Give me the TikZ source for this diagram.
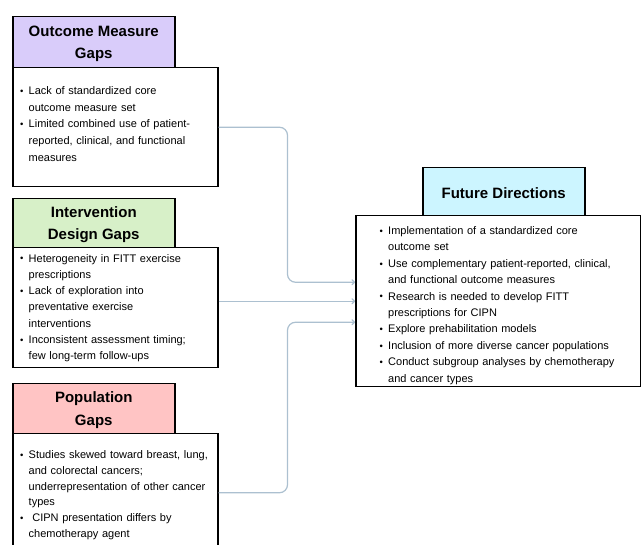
\documentclass[tikz,border=0pt]{standalone}
\usepackage{fontspec}
\setmainfont{Liberation Sans}
\usetikzlibrary{arrows.meta}
\definecolor{purpH}{RGB}{217,204,250}
\definecolor{greenH}{RGB}{215,240,200}
\definecolor{pinkH}{RGB}{255,196,196}
\definecolor{cyanH}{RGB}{204,245,255}
\definecolor{connC}{RGB}{172,192,208}
\newcommand{\bpt}[1]{\par\hangindent=8.5pt\hangafter=1\noindent\strut\makebox[8.5pt][l]{\raisebox{0.3pt}{\fontsize{9.5}{9.5}\selectfont\textbullet}}#1}
\tikzset{
  hdr/.style={draw, line width=1.5pt, minimum width=162pt, anchor=north west, inner sep=0pt},
  hdrtext/.style={align=center, inner sep=0pt, font=\bfseries\fontsize{15}{22.5}\selectfont},
  bodybox/.style={draw, line width=1.5pt, fill=white, anchor=north west, inner sep=0pt},
  btext/.style={anchor=north west, inner sep=0pt, text width=300pt, align=left},
  conn/.style={draw=connC, line width=1.2pt, rounded corners=8pt, -{To[length=3.5pt,width=6pt]}}
}
\begin{document}
\begin{tikzpicture}[x=1pt,y=-1pt]
\useasboundingbox (0,0) rectangle (641,545);
% Outcome measure
\node[bodybox, minimum width=205pt, minimum height=119pt] (b1) at (12,67) {};
\node[hdr, fill=purpH, minimum height=51pt] (h1) at (12,16) {};
\node[hdrtext] (h1t) at ([yshift=-1.5pt]h1.center) {Outcome Measure\\Gaps};
\node[btext, font=\fontsize{11}{16.7}\selectfont] (t1) at (20,77.5) {%
\bpt{Lack of standardized core\newline outcome measure set}
\bpt{Limited combined use of patient-\newline reported, clinical, and functional\newline measures}\par};
% Intervention design
\node[bodybox, minimum width=205pt, minimum height=120pt] (b2) at (12,247) {};
\node[hdr, fill=greenH, minimum height=49pt] (h2) at (12,198) {};
\node[hdrtext] (h2t) at ([yshift=-1.5pt]h2.center) {Intervention\\Design Gaps};
\node[btext, font=\fontsize{11}{16.3}\selectfont] (t2) at (20,245.6) {%
\bpt{Heterogeneity in FITT exercise\newline prescriptions}
\bpt{Lack of exploration into\newline preventative exercise\newline interventions}
\bpt{Inconsistent assessment timing;\newline few long-term follow-ups}\par};
% Population
\node[bodybox, minimum width=205pt, minimum height=118pt] (b3) at (12,433) {};
\node[hdr, fill=pinkH, minimum height=50pt] (h3) at (12,383) {};
\node[hdrtext] (h3t) at ([yshift=-1.5pt]h3.center) {Population\\Gaps};
\node[btext, font=\fontsize{11}{15.7}\selectfont] (t3) at (20,443) {%
\bpt{Studies skewed toward breast, lung,\newline and colorectal cancers;\newline underrepresentation of other cancer\newline types}
\bpt{\ CIPN presentation differs by\newline chemotherapy agent}\par};
% Future directions
\node[bodybox, minimum width=285pt, minimum height=171pt] (f) at (355,215) {};
\node[hdr, fill=cyanH, minimum height=48pt] (fh) at (422,167) {};
\node[hdrtext] (fht) at ([yshift=-1pt]fh.center) {Future Directions};
\node[btext, font=\fontsize{11}{16.4}\selectfont] (tf) at (379.5,218) {%
\bpt{Implementation of a standardized core\newline outcome set}
\bpt{Use complementary patient-reported, clinical,\newline and functional outcome measures}
\bpt{Research is needed to develop FITT\newline prescriptions for CIPN}
\bpt{Explore prehabilitation models}
\bpt{Inclusion of more diverse cancer populations}
\bpt{Conduct subgroup analyses by chemotherapy\newline and cancer types}\par};
% connectors
\draw[conn] (b1.east) -- ++(69,0) |- ([yshift=19pt]f.west);
\draw[conn] (b2.east |- f.west) -- (f.west);
\draw[conn] (b3.east) -- ++(69,0) |- ([yshift=-21pt]f.west);
\end{tikzpicture}
\end{document}
